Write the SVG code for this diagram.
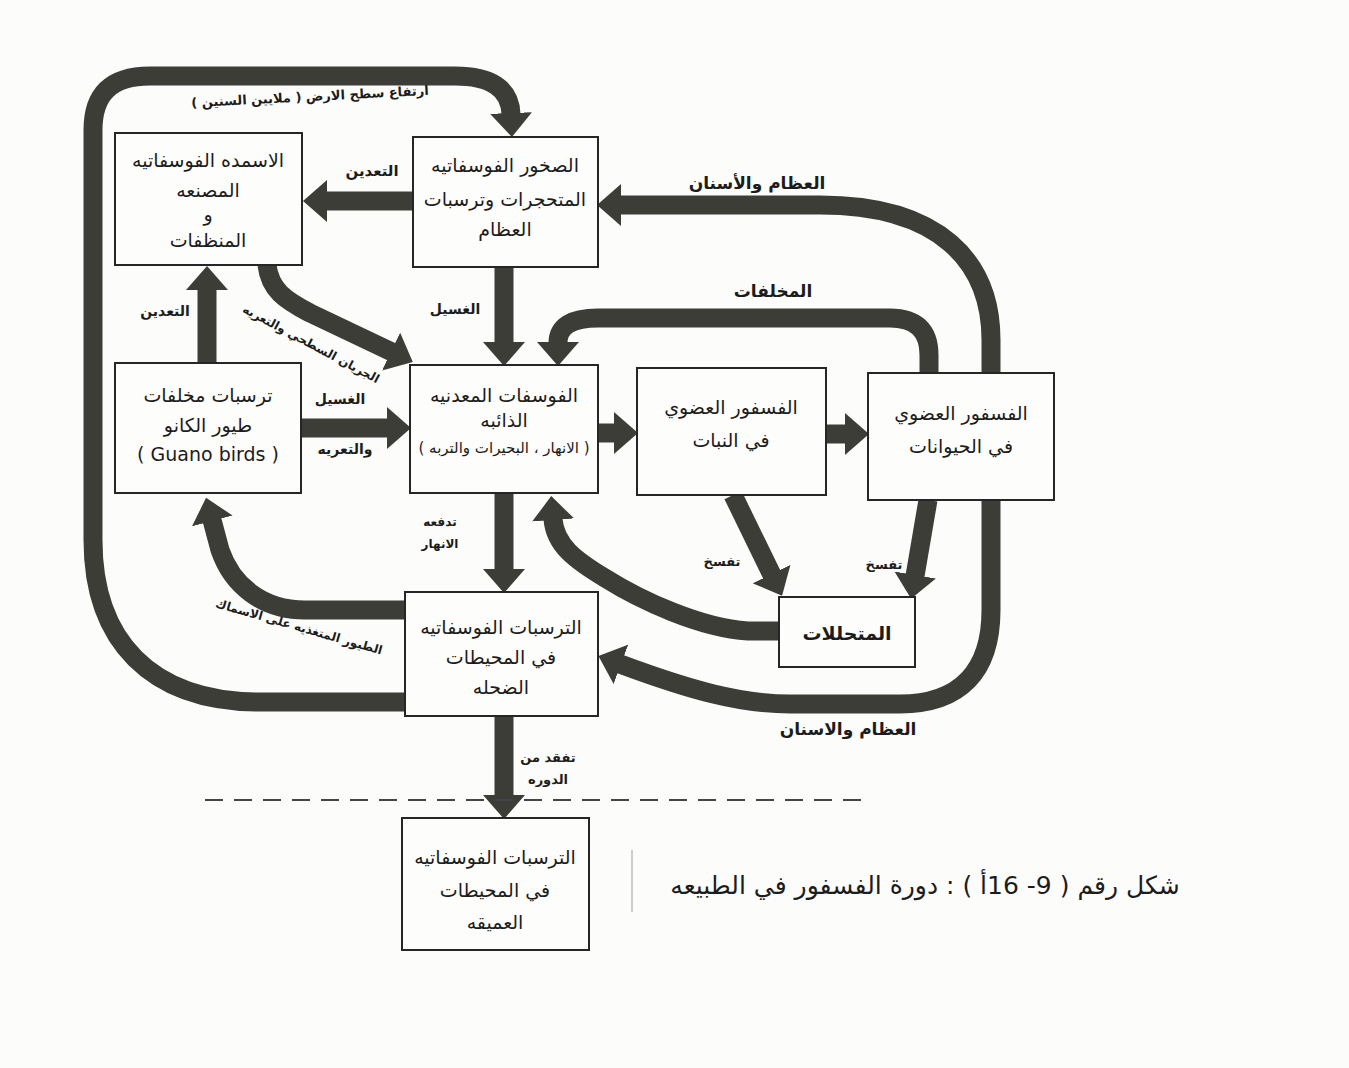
<svg xmlns="http://www.w3.org/2000/svg" width="1349" height="1068" viewBox="0 0 1349 1068">
<style>
.bg{fill:#fcfcfa}
.box{fill:#fdfdfb;stroke:#262626;stroke-width:2}
.flow{fill:none;stroke:#3d3d38;stroke-width:19;stroke-linejoin:round}
.t{font-family:"DejaVu Sans",sans-serif;font-size:19px;fill:#1c1c1c;text-anchor:middle}
.l{font-family:"DejaVu Sans",sans-serif;font-size:13px;fill:#1c1c1c;text-anchor:middle;font-weight:bold}
.dash{stroke:#444;stroke-width:2;stroke-dasharray:18 11;fill:none}
</style>
<defs>
<marker id="ah" markerUnits="userSpaceOnUse" markerWidth="24" markerHeight="42" viewBox="0 0 24 42" refX="1" refY="21" orient="auto">
<path d="M0,0 L24,21 L0,42 Z" fill="#3d3d38"/>
</marker>
</defs>
<rect class="bg" x="0" y="0" width="1349" height="1068"/>

<g id="connectors">
<!-- A: shallow ocean -> rocks (uplift) -->
<path class="flow" marker-end="url(#ah)" d="M405,702 H260 C150,702 93,640 93,540 V130 C93,95 110,76 150,76 H455 C490,76 510,88 511,114"/>
<!-- B: rocks -> fertilizers (mining) -->
<path class="flow" marker-end="url(#ah)" d="M413,201 H326"/>
<!-- C: guano -> fertilizers -->
<path class="flow" marker-end="url(#ah)" d="M207,363 V289"/>
<!-- D: fertilizers -> dissolved (runoff) -->
<path class="flow" marker-end="url(#ah)" d="M267,265 C270,290 285,300 310,313 L392,352"/>
<!-- E: rocks -> dissolved (leaching) -->
<path class="flow" marker-end="url(#ah)" d="M504,267 V343"/>
<!-- F: guano -> dissolved -->
<path class="flow" marker-end="url(#ah)" d="M301,428 H388"/>
<!-- G: animals -> dissolved (wastes) -->
<path class="flow" marker-end="url(#ah)" d="M929,373 V355 Q929,318 890,318 H598 Q558,318 558,343"/>
<!-- H: animals -> rocks (bones and teeth) -->
<path class="flow" marker-end="url(#ah)" d="M991,373 V340 C991,262 940,205 820,205 H620"/>
<!-- I: dissolved -> plants -->
<path class="flow" marker-end="url(#ah)" d="M598,433 H615"/>
<!-- J: plants -> animals -->
<path class="flow" marker-end="url(#ah)" d="M826,434 H846"/>
<!-- K: plants -> decomposers -->
<path class="flow" marker-end="url(#ah)" d="M733,495 L772,575"/>
<!-- L: animals -> decomposers -->
<path class="flow" marker-end="url(#ah)" d="M928,500 L915,576"/>
<!-- M: decomposers -> dissolved -->
<path class="flow" marker-end="url(#ah)" d="M779,631 H748 C700,628 640,600 605,578 C575,560 555,545 553,519"/>
<!-- N: animals -> shallow ocean (bones and teeth) -->
<path class="flow" marker-end="url(#ah)" d="M991,500 V610 C991,672 960,704 900,704 H790 C740,704 690,690 620,664"/>
<!-- O: dissolved -> shallow ocean -->
<path class="flow" marker-end="url(#ah)" d="M504,493 V570"/>
<!-- P: shallow ocean -> guano (sea birds) -->
<path class="flow" marker-end="url(#ah)" d="M405,610 H305 C262,610 232,585 220,550 L212,520"/>
<!-- Q: shallow -> deep ocean -->
<path class="flow" marker-end="url(#ah)" d="M504,716 V796"/>
</g>

<line class="dash" x1="205" y1="800" x2="866" y2="800"/>
<line x1="632" y1="850" x2="632" y2="912" stroke="#bdbdbd" stroke-width="1.5"/>

<g id="node-rocks">
<rect class="box" x="413" y="137" width="185" height="130"/>
<text class="t" direction="rtl" x="505" y="172">الصخور الفوسفاتيه</text>
<text class="t" direction="rtl" x="505" y="206">المتحجرات وترسبات</text>
<text class="t" direction="rtl" x="505" y="236">العظام</text>
</g>
<g id="node-fertilizers">
<rect class="box" x="115" y="133" width="187" height="132"/>
<text class="t" direction="rtl" x="208" y="167">الاسمده الفوسفاتيه</text>
<text class="t" direction="rtl" x="208" y="197">المصنعه</text>
<text class="t" direction="rtl" x="208" y="221">و</text>
<text class="t" direction="rtl" x="208" y="247">المنظفات</text>
</g>
<g id="node-guano">
<rect class="box" x="115" y="363" width="186" height="130"/>
<text class="t" direction="rtl" x="208" y="402">ترسبات مخلفات</text>
<text class="t" direction="rtl" x="208" y="432">طيور الكانو</text>
<text class="t" x="208" y="461">( Guano birds )</text>
</g>
<g id="node-dissolved">
<rect class="box" x="410" y="365" width="188" height="128"/>
<text class="t" direction="rtl" x="504" y="402">الفوسفات المعدنيه</text>
<text class="t" direction="rtl" x="504" y="427">الذائبه</text>
<text class="t" direction="rtl" x="504" y="453" style="font-size:15px">( الانهار ، البحيرات والتربه )</text>
</g>
<g id="node-plants">
<rect class="box" x="637" y="368" width="189" height="127"/>
<text class="t" direction="rtl" x="731" y="414">الفسفور العضوي</text>
<text class="t" direction="rtl" x="731" y="447">في النبات</text>
</g>
<g id="node-animals">
<rect class="box" x="868" y="373" width="186" height="127"/>
<text class="t" direction="rtl" x="961" y="420">الفسفور العضوي</text>
<text class="t" direction="rtl" x="961" y="453">في الحيوانات</text>
</g>
<g id="node-decomposers">
<rect class="box" x="779" y="597" width="136" height="70"/>
<text class="t" direction="rtl" x="847" y="640" style="font-size:19px;font-weight:bold">المتحللات</text>
</g>
<g id="node-shallow">
<rect class="box" x="405" y="592" width="193" height="124"/>
<text class="t" direction="rtl" x="501" y="634">الترسبات الفوسفاتيه</text>
<text class="t" direction="rtl" x="501" y="664">في المحيطات</text>
<text class="t" direction="rtl" x="501" y="694">الضحله</text>
</g>
<g id="node-deep">
<rect class="box" x="402" y="818" width="187" height="132"/>
<text class="t" direction="rtl" x="495" y="864">الترسبات الفوسفاتيه</text>
<text class="t" direction="rtl" x="495" y="897">في المحيطات</text>
<text class="t" direction="rtl" x="495" y="929">العميقه</text>
</g>

<g id="labels">
<text class="l" direction="rtl" x="310" y="101" transform="rotate(-3 310 97)">ارتفاع سطح الارض ( ملايين السنين )</text>
<text class="l" direction="rtl" x="372" y="176" style="font-size:15px">التعدين</text>
<text class="l" direction="rtl" x="757" y="189" style="font-size:17px">العظام والأسنان</text>
<text class="l" direction="rtl" x="773" y="297" style="font-size:17px">المخلفات</text>
<text class="l" direction="rtl" x="455" y="314" style="font-size:14px">الغسيل</text>
<text class="l" direction="rtl" x="165" y="316" style="font-size:14px">التعدين</text>
<text class="l" direction="rtl" x="311" y="348" transform="rotate(28 311 344)" style="font-size:12px">الجريان السطحي والتعريه</text>
<text class="l" direction="rtl" x="340" y="404" style="font-size:14px">الغسيل</text>
<text class="l" direction="rtl" x="345" y="454" style="font-size:14px">والتعريه</text>
<text class="l" direction="rtl" x="440" y="526" style="font-size:12px">تدفعه</text>
<text class="l" direction="rtl" x="440" y="548" style="font-size:12px">الانهار</text>
<text class="l" direction="rtl" x="299" y="631" transform="rotate(16 299 627)" style="font-size:12px">الطيور المتغذيه على الاسماك</text>
<text class="l" direction="rtl" x="722" y="566">تفسخ</text>
<text class="l" direction="rtl" x="884" y="569">تفسخ</text>
<text class="l" direction="rtl" x="848" y="735" style="font-size:17px">العظام والاسنان</text>
<text class="l" direction="rtl" x="548" y="762">تفقد من</text>
<text class="l" direction="rtl" x="548" y="784">الدوره</text>
<text class="t" direction="rtl" x="925" y="894" style="font-size:25px">شكل رقم ( 9- 16أ ) :   دورة الفسفور في الطبيعه</text>
</g>
</svg>
